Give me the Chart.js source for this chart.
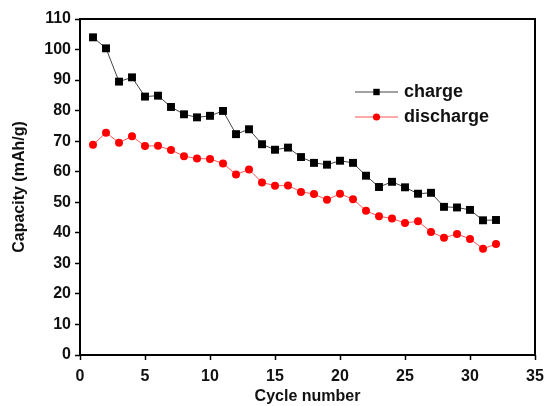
<!DOCTYPE html>
<html>
<head>
<meta charset="utf-8">
<script src="https://cdn.jsdelivr.net/npm/chart.js@4.4.0/dist/chart.umd.min.js"></script>
<style>
  html, body { margin: 0; padding: 0; background: #fff; }
  #wrap { width: 547px; height: 406px; }
</style>
</head>
<body>
<div id="wrap"><canvas id="cap-chart" width="547" height="406"></canvas></div>
<script>
// data
const cycles = [1,2,3,4,5,6,7,8,9,10,11,12,13,14,15,16,17,18,19,20,21,22,23,24,25,26,27,28,29,30,31,32];
const charge = [104.0,100.4,89.5,90.9,84.6,84.9,81.2,78.8,77.8,78.3,79.9,72.3,73.9,69.0,67.2,67.9,
                64.8,62.9,62.3,63.6,62.9,58.7,55.0,56.7,54.9,52.8,53.1,48.5,48.3,47.5,44.1,44.2];
const discharge = [68.8,72.8,69.5,71.6,68.4,68.5,67.1,65.1,64.3,64.2,62.7,59.1,60.7,56.5,55.4,55.5,
                   53.4,52.7,50.8,52.8,51.0,47.2,45.4,44.7,43.2,43.8,40.3,38.4,39.6,38.0,34.8,36.3];
const seriesNames = ['charge', 'discharge'];
const xTicks = [0, 5, 10, 15, 20, 25, 30, 35];
const yTicks = [0, 10, 20, 30, 40, 50, 60, 70, 80, 90, 100, 110];

const FONT = "'Liberation Sans', Arial, sans-serif";

// frame around the plot area
const framePlugin = {
  id: 'frame',
  afterDatasetsDraw(chart) {
    const a = chart.chartArea, ctx = chart.ctx;
    ctx.save();
    ctx.strokeStyle = '#000';
    ctx.lineWidth = 2;
    ctx.strokeRect(a.left, a.top, a.right - a.left, a.bottom - a.top);
    ctx.restore();
  }
};

// legend drawn inside the plot, like the original
const legendPlugin = {
  id: 'inLegend',
  afterDraw(chart) {
    const ctx = chart.ctx;
    const x0 = 355, x1 = 398, tx = 404;
    const rows = [92, 117];
    ctx.save();
    chart.data.datasets.forEach((ds, i) => {
      const y = rows[i];
      ctx.strokeStyle = ds.borderColor;
      ctx.lineWidth = ds.borderWidth;
      ctx.beginPath();
      ctx.moveTo(x0, y);
      ctx.lineTo(x1, y);
      ctx.stroke();
      ctx.fillStyle = ds.pointBackgroundColor;
      if (ds.pointStyle === 'rect') {
        ctx.fillRect((x0 + x1) / 2 - 3.2, y - 3.2, 6.4, 6.4);
      } else {
        ctx.beginPath();
        ctx.arc((x0 + x1) / 2, y, 3.6, 0, Math.PI * 2);
        ctx.fill();
      }
      ctx.fillStyle = '#111';
      ctx.font = 'bold 18px ' + FONT;
      ctx.textBaseline = 'middle';
      ctx.fillText(ds.label, tx, y);
    });
    ctx.restore();
  }
};

new Chart(document.getElementById('cap-chart'), {
  type: 'line',
  data: {
    datasets: [
      {
        label: seriesNames[0],
        data: cycles.map((c, i) => ({ x: c, y: charge[i] })),
        borderColor: '#444',
        borderWidth: 1,
        pointStyle: 'rect',
        pointRadius: 5.6,
        pointBackgroundColor: '#000',
        pointBorderWidth: 0,
        tension: 0
      },
      {
        label: seriesNames[1],
        data: cycles.map((c, i) => ({ x: c, y: discharge[i] })),
        borderColor: '#f55',
        borderWidth: 1,
        pointStyle: 'circle',
        pointRadius: 4,
        pointBackgroundColor: '#f00',
        pointBorderWidth: 0,
        tension: 0
      }
    ]
  },
  options: {
    responsive: false,
    animation: false,
    layout: { padding: { left: 0, right: 12, top: 19, bottom: 0 } },
    plugins: { legend: { display: false }, tooltip: { enabled: false } },
    scales: {
      x: {
        type: 'linear',
        min: 0, max: 35,
        afterBuildTicks: s => { s.ticks = xTicks.map(v => ({ value: v })); },
        afterFit: s => { s.height = 51; s.paddingRight = 0; },
        grid: { drawOnChartArea: false, drawTicks: true, tickLength: 5, tickColor: '#000', tickWidth: 1.5 },
        border: { display: false },
        ticks: { color: '#111', padding: 7, maxRotation: 0, font: { family: FONT, size: 16, weight: 'bold' } },
        title: { display: true, text: 'Cycle number', color: '#111', padding: { top: 3, bottom: 0 },
                 font: { family: FONT, size: 16, weight: 'bold' } }
      },
      y: {
        min: 0, max: 110,
        afterBuildTicks: s => { s.ticks = yTicks.map(v => ({ value: v })); },
        afterFit: s => { s.width = 80; },
        grid: { drawOnChartArea: false, drawTicks: true, tickLength: 5, tickColor: '#000', tickWidth: 1.5 },
        border: { display: false },
        ticks: { color: '#111', padding: 4, font: { family: FONT, size: 16, weight: 'bold' } },
        title: { display: true, text: 'Capacity (mAh/g)', color: '#111', padding: { top: 10, bottom: 0 },
                 font: { family: FONT, size: 16, weight: 'bold' } }
      }
    }
  },
  plugins: [framePlugin, legendPlugin]
});
</script>
</body>
</html>
